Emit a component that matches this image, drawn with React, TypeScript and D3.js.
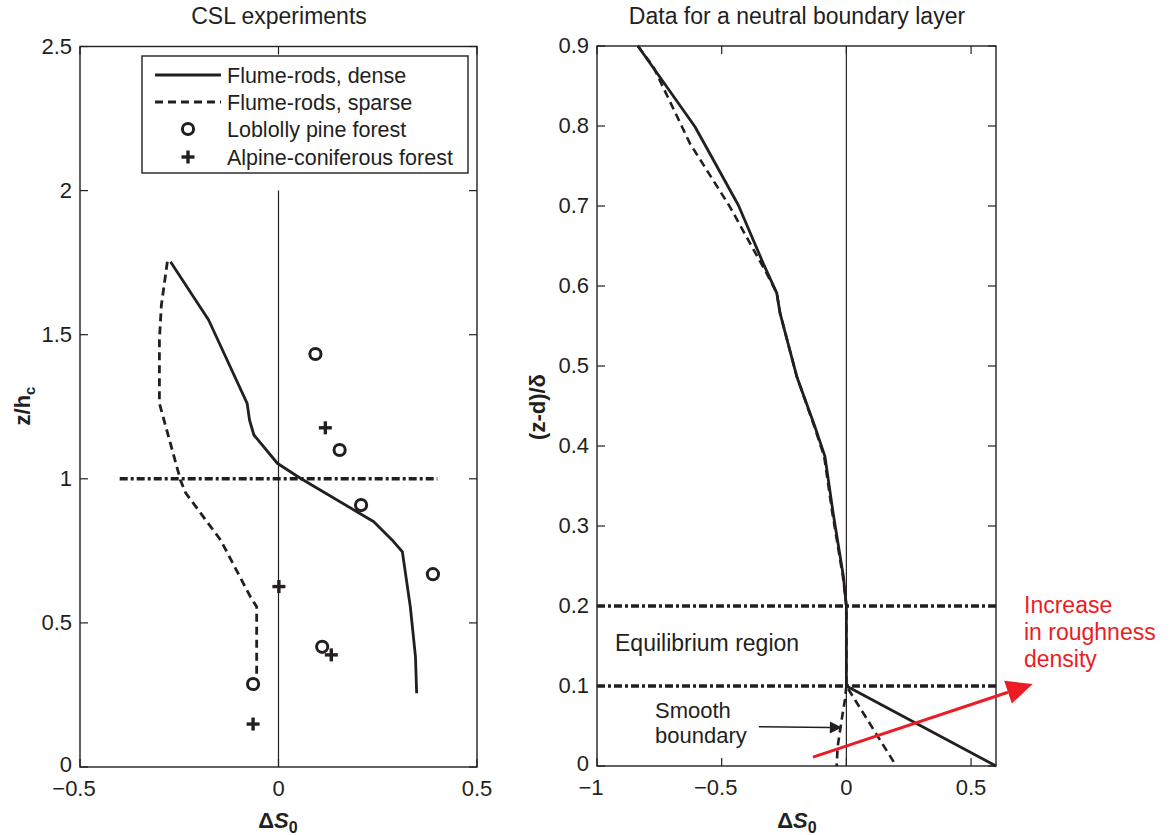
import React from 'react';
import * as d3 from 'd3';

const FONT = '"Liberation Sans", Arial, Helvetica, sans-serif';
const INK = '#231f20';
const RED = '#ed1c24';

// ---- Left panel: CSL experiments ----
const denseX = [-0.272, -0.176, -0.079, -0.073, -0.062, -0.003, 0.055, 0.24, 0.286, 0.312, 0.332, 0.345, 0.348];
const denseZ = [1.753, 1.551, 1.262, 1.204, 1.152, 1.054, 1.002, 0.851, 0.788, 0.747, 0.556, 0.383, 0.256];
const sparseX = [-0.28, -0.295, -0.3, -0.3, -0.247, -0.234, -0.146, -0.071, -0.055, -0.055];
const sparseZ = [1.753, 1.603, 1.482, 1.262, 0.996, 0.951, 0.788, 0.591, 0.556, 0.302];
const loblollyX = [0.093, 0.154, 0.208, 0.389, 0.11, -0.064];
const loblollyZ = [1.433, 1.1, 0.909, 0.669, 0.417, 0.288];
const alpineX = [0.118, 0.001, 0.133, -0.064];
const alpineZ = [1.177, 0.626, 0.389, 0.149];
const canopyLineX = [-0.4, 0.4];
const canopyLineZ = 1;
const zeroLineTop = 2;
const leftXTicks = [-0.5, 0, 0.5];
const leftYTicks = [0, 0.5, 1, 1.5, 2, 2.5];
const legendLabels = ['Flume-rods, dense', 'Flume-rods, sparse', 'Loblolly pine forest', 'Alpine-coniferous forest'];

// ---- Right panel: neutral boundary layer ----
const blDenseX = [-0.836, -0.607, -0.433, -0.333, -0.279, -0.266, -0.199, -0.126, -0.086, -0.053, -0.012, 0, 0, 0.6];
const blDenseY = [0.9, 0.799, 0.701, 0.628, 0.591, 0.566, 0.487, 0.424, 0.387, 0.316, 0.237, 0.2, 0.1, 0];
const blSparseX = [-0.836, -0.774, -0.627, -0.467, -0.32, -0.279, -0.266, -0.199, -0.128, -0.089, -0.056, -0.014, 0, 0, 0.2];
const blSparseY = [0.9, 0.874, 0.778, 0.699, 0.616, 0.591, 0.566, 0.487, 0.424, 0.387, 0.316, 0.237, 0.2, 0.1, 0];
const smoothX = [0, -0.006, -0.019, -0.035, -0.039];
const smoothY = [0.1, 0.0825, 0.0575, 0.024, 0];
const regionBounds = [0.1, 0.2];
const rightXTicks = [-1, -0.5, 0, 0.5];
const rightYTicks = [0, 0.1, 0.2, 0.3, 0.4, 0.5, 0.6, 0.7, 0.8, 0.9];

const DASH = '8 5';
const DASHDOT = '8 3 3 3';
const TICK = 8;
const TICK_FS = 22;

function fmt(v: number) {
  const s = String(Math.abs(v));
  return v < 0 ? '\u2212' + s : s;
}

type Scale = d3.ScaleLinear<number, number>;

function Frame({ x, y, xTicks, yTicks }: { x: Scale; y: Scale; xTicks: number[]; yTicks: number[] }) {
  const [x0, x1] = x.range();
  const [y0, y1] = y.range(); // y0 bottom, y1 top
  return (
    <g>
      <rect x={x0} y={y1} width={x1 - x0} height={y0 - y1} fill="none" stroke={INK} strokeWidth={1.4} />
      {xTicks.map((t) => (
        <g key={'xt' + t}>
          <line x1={x(t)} x2={x(t)} y1={y0} y2={y0 - TICK} stroke={INK} strokeWidth={1.2} />
          <line x1={x(t)} x2={x(t)} y1={y1} y2={y1 + TICK} stroke={INK} strokeWidth={1.2} />
          <text x={x(t)} y={y0 + 29} dx={t < 0 ? -6 : 0} textAnchor="middle" fontSize={TICK_FS} fill={INK} fontFamily={FONT}>
            {fmt(t)}
          </text>
        </g>
      ))}
      {yTicks.map((t) => (
        <g key={'yt' + t}>
          <line x1={x0} x2={x0 + TICK} y1={y(t)} y2={y(t)} stroke={INK} strokeWidth={1.2} />
          <line x1={x1} x2={x1 - TICK} y1={y(t)} y2={y(t)} stroke={INK} strokeWidth={1.2} />
          <text x={x0 - 8} y={y(t) + (t === 0 ? 5 : 7)} textAnchor="end" fontSize={TICK_FS} fill={INK} fontFamily={FONT}>
            {fmt(t)}
          </text>
        </g>
      ))}
    </g>
  );
}

function Circle({ cx, cy }: { cx: number; cy: number }) {
  return <circle cx={cx} cy={cy} r={5.6} fill="none" stroke={INK} strokeWidth={3} />;
}

function Plus({ cx, cy }: { cx: number; cy: number }) {
  const h = 6.5;
  return (
    <g stroke={INK} strokeWidth={3.4}>
      <line x1={cx - h} x2={cx + h} y1={cy} y2={cy} />
      <line x1={cx} x2={cx} y1={cy - h} y2={cy + h} />
    </g>
  );
}

function DeltaS({ cx, y }: { cx: number; y: number }) {
  return (
    <text x={cx} y={y} textAnchor="middle" fontSize={22} fontWeight="bold" fill={INK} fontFamily={FONT}>
      {'\u0394'}
      <tspan fontStyle="italic">S</tspan>
      <tspan fontSize={16} dy={5}>0</tspan>
    </text>
  );
}

export default function App() {
  // left panel scales
  const lx = d3.scaleLinear().domain([-0.5, 0.5]).range([80, 477]);
  const ly = d3.scaleLinear().domain([0, 2.5]).range([767, 46.5]);
  // right panel scales
  const rx = d3.scaleLinear().domain([-1, 0.6]).range([597, 996]);
  const ry = d3.scaleLinear().domain([0, 0.9]).range([766, 46]);

  const lLine = d3.line<[number, number]>().x((d) => lx(d[0])).y((d) => ly(d[1]));
  const rLine = d3.line<[number, number]>().x((d) => rx(d[0])).y((d) => ry(d[1]));

  const zip = (a: number[], b: number[]) => a.map((v, i) => [v, b[i]] as [number, number]);

  const legendX = 142;
  const legendY = 56;
  const rowY = [75, 102, 129, 157];

  // annotation arrows (data coordinates of the right panel)
  const redFrom: [number, number] = [-0.134, 0.011];
  const redTo: [number, number] = [0.747, 0.1025];
  const blackFrom: [number, number] = [-0.351, 0.049];
  const blackTo: [number, number] = [-0.018, 0.048];

  const arrowHead = (from: [number, number], to: [number, number], len: number, half: number) => {
    const fx = rx(from[0]), fy = ry(from[1]), tx = rx(to[0]), ty = ry(to[1]);
    const a = Math.atan2(ty - fy, tx - fx);
    const bx = tx - len * Math.cos(a), by = ty - len * Math.sin(a);
    const px = -Math.sin(a) * half, py = Math.cos(a) * half;
    return {
      path: `M${tx},${ty}L${bx + px},${by + py}L${bx - px},${by - py}Z`,
      bx, by, fx, fy,
    };
  };
  const redHead = arrowHead(redFrom, redTo, 26, 12);
  const blackHead = arrowHead(blackFrom, blackTo, 12, 6);

  return (
    <svg width={1170} height={835} style={{ position: 'absolute', left: 0, top: 0, background: '#fff' }} fontFamily={FONT}>
      <rect width={1170} height={835} fill="#fff" />

      {/* ---------- Left panel ---------- */}
      <text x={279} y={24} textAnchor="middle" fontSize={23} fill={INK}>CSL experiments</text>
      <line x1={lx(0)} x2={lx(0)} y1={ly(zeroLineTop)} y2={ly(0)} stroke={INK} strokeWidth={1.2} />
      <line x1={lx(canopyLineX[0])} x2={lx(canopyLineX[1])} y1={ly(canopyLineZ)} y2={ly(canopyLineZ)} stroke={INK} strokeWidth={3.4} strokeDasharray={DASHDOT} />
      <path d={lLine(zip(denseX, denseZ)) || ''} fill="none" stroke={INK} strokeWidth={2.8} strokeLinejoin="round" />
      <path d={lLine(zip(sparseX, sparseZ)) || ''} fill="none" stroke={INK} strokeWidth={2.8} strokeDasharray={DASH} />
      {loblollyX.map((v, i) => <Circle key={'c' + i} cx={lx(v)} cy={ly(loblollyZ[i])} />)}
      {alpineX.map((v, i) => <Plus key={'p' + i} cx={lx(v)} cy={ly(alpineZ[i])} />)}
      <Frame x={lx} y={ly} xTicks={leftXTicks} yTicks={leftYTicks} />

      {/* legend */}
      <rect x={legendX} y={legendY} width={326} height={117} fill="#fff" stroke={INK} strokeWidth={1.4} />
      <line x1={155} x2={221} y1={rowY[0]} y2={rowY[0]} stroke={INK} strokeWidth={2.8} />
      <line x1={155} x2={221} y1={rowY[1]} y2={rowY[1]} stroke={INK} strokeWidth={2.8} strokeDasharray={DASH} />
      <Circle cx={188} cy={rowY[2]} />
      <Plus cx={188} cy={rowY[3]} />
      {legendLabels.map((s, i) => (
        <text key={s} x={227} y={rowY[i] + 8} fontSize={21.5} fill={INK}>{s}</text>
      ))}

      <text transform="translate(30,406) rotate(-90)" textAnchor="middle" fontSize={22} fontWeight="bold" fill={INK}>
        z/h<tspan fontSize={15} dy={5}>c</tspan>
      </text>
      <DeltaS cx={278} y={828} />

      {/* ---------- Right panel ---------- */}
      <text x={797} y={24} textAnchor="middle" fontSize={23} fill={INK}>Data for a neutral boundary layer</text>
      <line x1={rx(0)} x2={rx(0)} y1={ry(0.9)} y2={ry(0)} stroke={INK} strokeWidth={1.2} />
      {regionBounds.map((b) => (
        <line key={'rb' + b} x1={rx(-1)} x2={rx(0.6)} y1={ry(b)} y2={ry(b)} stroke={INK} strokeWidth={3.4} strokeDasharray={DASHDOT} />
      ))}
      <path d={rLine(zip(blDenseX, blDenseY)) || ''} fill="none" stroke={INK} strokeWidth={2.8} strokeLinejoin="round" />
      <path d={rLine(zip(blSparseX, blSparseY)) || ''} fill="none" stroke={INK} strokeWidth={2.6} strokeDasharray={DASH} />
      <path d={rLine(zip(smoothX, smoothY)) || ''} fill="none" stroke={INK} strokeWidth={2.6} strokeDasharray={DASH} />
      <Frame x={rx} y={ry} xTicks={rightXTicks} yTicks={rightYTicks} />

      <text x={615} y={651} fontSize={23} fill={INK}>Equilibrium region</text>
      <text x={655} y={718} fontSize={22} fill={INK}>
        <tspan x={655}>Smooth</tspan>
        <tspan x={655} dy={25}>boundary</tspan>
      </text>
      <line x1={blackHead.fx} y1={blackHead.fy} x2={blackHead.bx} y2={blackHead.by} stroke={INK} strokeWidth={1.5} />
      <path d={blackHead.path} fill={INK} />

      <line x1={redHead.fx} y1={redHead.fy} x2={redHead.bx} y2={redHead.by} stroke={RED} strokeWidth={3} />
      <path d={redHead.path} fill={RED} />
      <text x={1024} y={613} fontSize={23} fill={RED}>
        <tspan x={1024}>Increase</tspan>
        <tspan x={1024} dy={27}>in roughness</tspan>
        <tspan x={1024} dy={27}>density</tspan>
      </text>

      <text transform="translate(545,407) rotate(-90)" textAnchor="middle" fontSize={22} fontWeight="bold" fill={INK}>
        (z-d)/{'\u03B4'}
      </text>
      <DeltaS cx={797} y={828} />
    </svg>
  );
}
